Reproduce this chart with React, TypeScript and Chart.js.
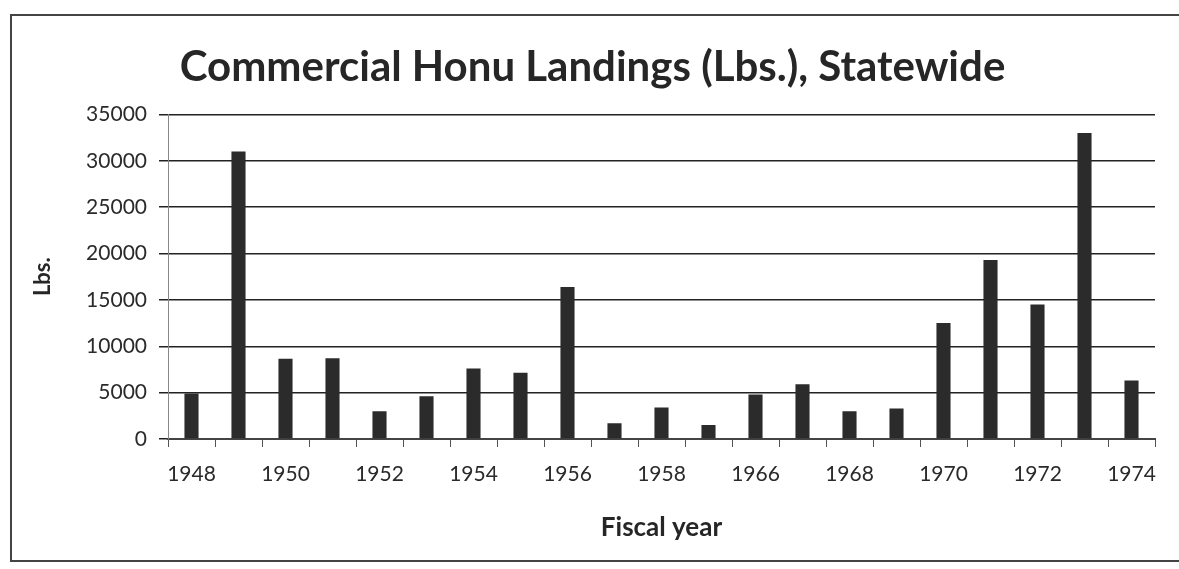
import React, { useEffect, useRef } from "react";
import { Chart, registerables } from "chart.js";

Chart.register(...registerables);

const years: string[] = [
  "1948", "1949", "1950", "1951", "1952", "1953", "1954", "1955", "1956", "1957",
  "1958", "1959", "1966", "1967", "1968", "1969", "1970", "1971", "1972", "1973", "1974",
];
const landings: number[] = [
  4900, 31000, 8650, 8700, 3000, 4600, 7600, 7150, 16400, 1700,
  3400, 1500, 4800, 5900, 3000, 3300, 12500, 19300, 14500, 33000, 6300,
];
const yTicks: number[] = [0, 5000, 10000, 15000, 20000, 25000, 30000, 35000];

const FONT = "Lato, 'Open Sans', sans-serif";

export default function App() {
  const ref = useRef<HTMLCanvasElement | null>(null);

  useEffect(() => {
    document.body.style.margin = "0";
    const canvas = ref.current;
    if (!canvas) return;
    const chart = new Chart(canvas, {
      type: "bar",
      data: {
        labels: years,
        datasets: [
          {
            label: "Lbs.",
            data: landings,
            backgroundColor: "#2b2b2b",
            borderWidth: 0,
            categoryPercentage: 1,
            barPercentage: 0.3,
          },
        ],
      },
      options: {
        animation: false,
        responsive: false,
        devicePixelRatio: 1,
        layout: { padding: { left: 30, right: 24, top: 0, bottom: 0 } },
        plugins: {
          legend: { display: false },
          tooltip: { enabled: false },
          title: {
            display: true,
            text: "Commercial Honu Landings (Lbs.), Statewide",
            color: "#262626",
            font: { family: FONT, size: 42, weight: "bold" },
            padding: { top: 42, bottom: 22 },
          },
        },
        scales: {
          x: {
            grid: {
              display: true,
              drawOnChartArea: false,
              drawTicks: true,
              tickLength: 8,
              color: "#555",
              offset: true,
            },
            border: { display: true, color: "#444", width: 2 },
            ticks: {
              autoSkip: false,
              maxRotation: 0,
              padding: 15,
              color: "#2a2a2a",
              font: { family: FONT, size: 21 },
              callback: (_v: any, i: number) => (i % 2 === 0 ? years[i] : ""),
            },
            title: {
              display: true,
              text: "Fiscal year",
              color: "#262626",
              font: { family: FONT, size: 26, weight: "bold" },
              padding: { top: 0, bottom: 26 },
            },
            afterFit: (scale: any) => {
              scale.height = 130;
            },
          },
          y: {
            min: 0,
            max: 35000,
            afterBuildTicks: (scale: any) => {
              scale.ticks = yTicks.map((v) => ({ value: v }));
            },
            grid: {
              color: "#222",
              lineWidth: 1.5,
              tickLength: 9,
            },
            border: { display: true, color: "#888", width: 1 },
            ticks: {
              padding: 12,
              color: "#2a2a2a",
              font: { family: FONT, size: 21 },
              callback: (v: any) => String(v),
            },
            title: {
              display: true,
              text: "Lbs.",
              color: "#262626",
              font: { family: FONT, size: 22, weight: "bold" },
              padding: { top: 0, bottom: 0 },
            },
            afterFit: (scale: any) => {
              scale.width = 138;
            },
          },
        },
      },
    });
    return () => chart.destroy();
  }, []);

  return (
    <div style={{ position: "relative", width: 1179, height: 569, background: "#fff" }}>
      <canvas ref={ref} width={1179} height={569} style={{ display: "block" }} />
      <div
        style={{
          position: "absolute",
          left: 10,
          top: 14,
          width: 1169,
          height: 544,
          borderLeft: "2px solid #444",
          borderTop: "2px solid #444",
          borderBottom: "2px solid #444",
          pointerEvents: "none",
        }}
      />
    </div>
  );
}
